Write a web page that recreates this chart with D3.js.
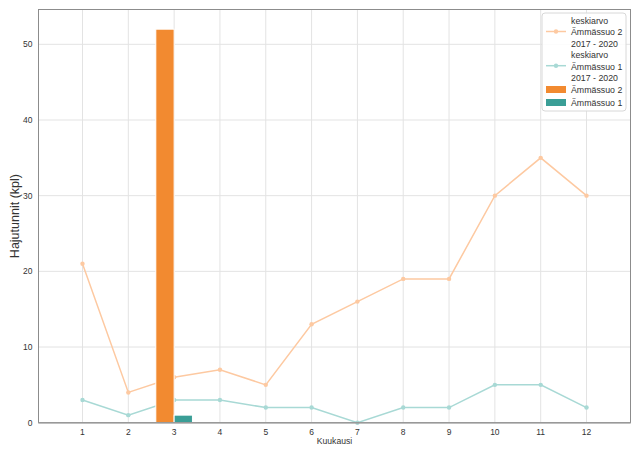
<!DOCTYPE html>
<html><head><meta charset="utf-8">
<script src="https://cdn.jsdelivr.net/npm/d3@7"></script>
<style>body{margin:0;background:#fff}svg{display:block;font-family:"Liberation Sans",Arial,sans-serif}</style>
</head><body><svg id="c" width="640" height="457"></svg>
<script>
const months = [1,2,3,4,5,6,7,8,9,10,11,12];
const avg2 = [21,4,6,7,5,13,16,19,19,30,35,30];
const avg1 = [3,1,3,3,2,2,0,2,2,5,5,2];
const barMonths = [3];
const bar2 = [52];
const bar1 = [1];
const yTicks = [0,10,20,30,40,50];
const legendLabels = [["keskiarvo","Ämmässuo 2","2017 - 2020"],["keskiarvo","Ämmässuo 1","2017 - 2020"],["Ämmässuo 2"],["Ämmässuo 1"]];

const col2 = "#f28a30", col1 = "#3a9e96";
const line2 = "#fdc9a1", line1 = "#a8d9d5";

const svg = d3.select("#c");
const L = 38.5, R = 630.5, T = 9.5, B = 422.7;
const x = d3.scaleLinear().domain([0.04, 12.96]).range([L, R]);
const y = d3.scaleLinear().domain([0, 54.6]).range([B, T]);

// grid
svg.append("g").selectAll("line").data(months).join("line")
  .attr("x1", d=>x(d)).attr("x2", d=>x(d)).attr("y1", T).attr("y2", B)
  .attr("stroke", "#e3e3e3").attr("stroke-width", 1);
svg.append("g").selectAll("line").data(yTicks).join("line")
  .attr("x1", L).attr("x2", R).attr("y1", d=>y(d)).attr("y2", d=>y(d))
  .attr("stroke", "#e3e3e3").attr("stroke-width", 1);

// lines
function drawLine(data, color){
  const g = svg.append("g");
  g.append("path").datum(data)
    .attr("d", d3.line().x((d,i)=>x(months[i])).y(d=>y(d)))
    .attr("fill","none").attr("stroke", color).attr("stroke-width", 1.5);
  g.selectAll("circle").data(data).join("circle")
    .attr("cx", (d,i)=>x(months[i])).attr("cy", d=>y(d)).attr("r", 2.2)
    .attr("fill", color);
}
drawLine(avg2, line2);
drawLine(avg1, line1);

// bars
const bw = 0.4;
svg.append("g").selectAll("rect").data(bar2).join("rect")
  .attr("x", (d,i)=>x(barMonths[i]-bw)).attr("width", x(bw)-x(0))
  .attr("y", d=>y(d)).attr("height", d=>y(0)-y(d))
  .attr("fill", col2).attr("stroke", "#fff").attr("stroke-width", 1);
svg.append("g").selectAll("rect").data(bar1).join("rect")
  .attr("x", (d,i)=>x(barMonths[i])).attr("width", x(bw)-x(0))
  .attr("y", d=>y(d)).attr("height", d=>y(0)-y(d))
  .attr("fill", col1).attr("stroke", "#fff").attr("stroke-width", 1);

// frame
svg.append("rect").attr("x", L).attr("y", T).attr("width", R-L).attr("height", B-T)
  .attr("fill","none").attr("stroke","#8c8c8c").attr("stroke-width",1);
svg.append("line").attr("x1",L).attr("x2",R).attr("y1",B).attr("y2",B)
  .attr("stroke","#999").attr("stroke-width",1.6);

// axes labels
svg.append("g").selectAll("text").data(yTicks).join("text")
  .attr("x", L-6).attr("y", d=>y(d)+3).attr("text-anchor","end")
  .attr("font-size", 8.5).attr("fill","#333").text(d=>d);
svg.append("g").selectAll("text").data(months).join("text")
  .attr("x", d=>x(d)).attr("y", B+12.5).attr("text-anchor","middle")
  .attr("font-size", 8.5).attr("fill","#333").text(d=>d);
svg.append("text").attr("x",(L+R)/2).attr("y",444).attr("text-anchor","middle")
  .attr("font-size",8.6).attr("fill","#333").text("Kuukausi");
svg.append("text").attr("transform",`translate(18.5,${(T+B)/2}) rotate(-90)`)
  .attr("text-anchor","middle").attr("font-size",12.5).attr("fill","#333").text("Hajutunnit (kpl)");

// legend
const lg = svg.append("g");
lg.append("rect").attr("x",542).attr("y",13).attr("width",84).attr("height",98).attr("rx",3)
  .attr("fill","#fff").attr("fill-opacity",0.85).attr("stroke","#d8d8d8");
const tx = 571, lh = 11.5;
const starts = [23.5, 58, 92.5, 105.5];
legendLabels.forEach((lines,k)=>{
  lines.forEach((s,j)=>{
    lg.append("text").attr("x",tx).attr("y",starts[k]+j*lh).attr("font-size",8.8)
      .attr("fill","#333").text(s);
  });
});
[[line2,31.5],[line1,65.7]].forEach(([c,yy])=>{
  lg.append("line").attr("x1",546).attr("x2",566).attr("y1",yy).attr("y2",yy)
    .attr("stroke",c).attr("stroke-width",1.5);
  lg.append("circle").attr("cx",556).attr("cy",yy).attr("r",2.2).attr("fill",c);
});
[[col2,89.5],[col1,102.5]].forEach(([c,yy])=>{
  lg.append("rect").attr("x",546).attr("y",yy-3.5).attr("width",20).attr("height",7).attr("fill",c);
});
</script></body></html>
